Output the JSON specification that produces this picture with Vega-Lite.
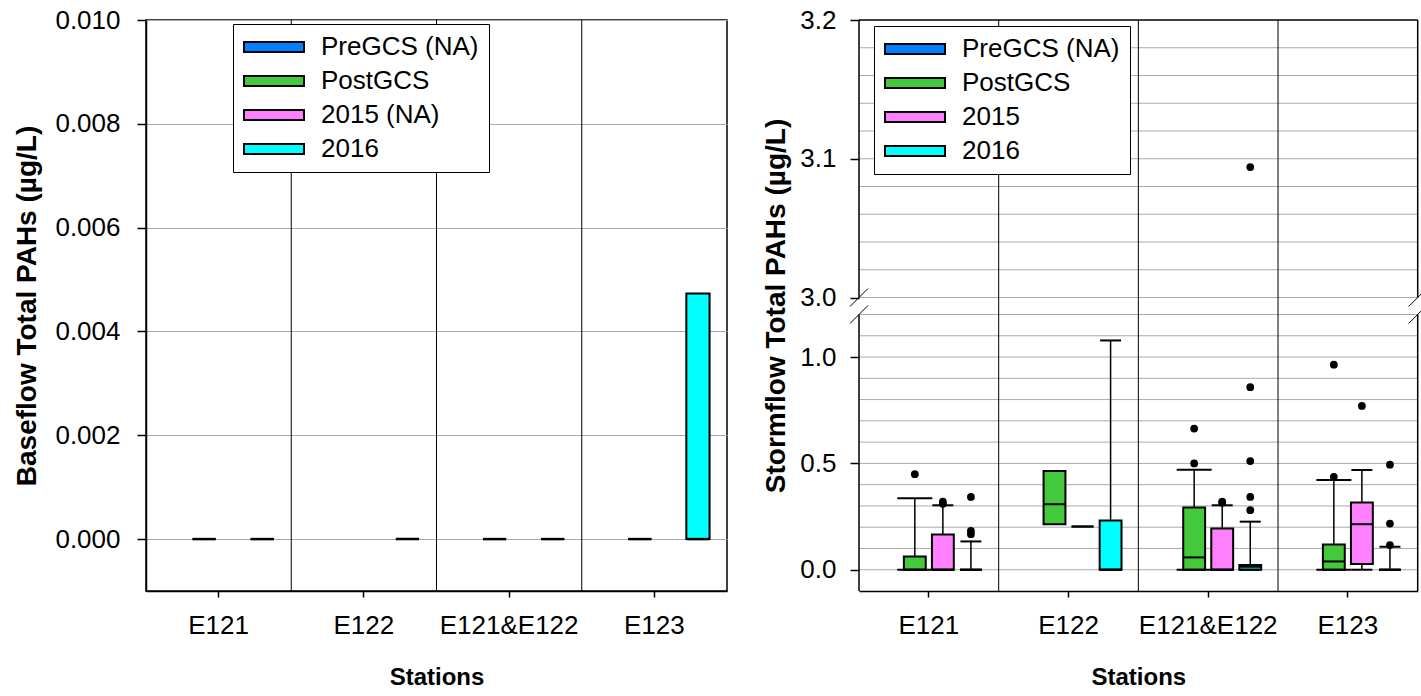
{
  "$schema": "https://vega.github.io/schema/vega-lite/v6.json",
  "autosize": {"type": "pad"},
  "padding": {"left": 13, "top": 6, "right": 0, "bottom": 0},
  "background": "white",
  "spacing": 34,
  "config": {
    "font": "Liberation Sans",
    "view": {"stroke": null},
    "axis": {
      "labelFont": "Liberation Sans", "labelFontSize": 26, "labelColor": "black", "labelOverlap": false, "labelFlush": false,
      "titleFont": "Liberation Sans", "titleFontSize": 28, "titleFontWeight": "bold", "titleColor": "black",
      "tickColor": "black", "tickWidth": 1.5, "domainColor": "black", "domainWidth": 1.5
    }
  },
  "datasets": {
    "base": [
      {"station": "E121", "group": "PostGCS", "q1": 0, "med": 0, "q3": 0},
      {"station": "E121", "group": "2016", "q1": 0, "med": 0, "q3": 0},
      {"station": "E122", "group": "2016", "q1": 0, "med": 0, "q3": 0},
      {"station": "E121&E122", "group": "PostGCS", "q1": 0, "med": 0, "q3": 0},
      {"station": "E121&E122", "group": "2016", "q1": 0, "med": 0, "q3": 0},
      {"station": "E123", "group": "PostGCS", "q1": 0, "med": 0, "q3": 0},
      {"station": "E123", "group": "2016", "q1": 0, "med": 0, "q3": 0.00473}
    ],
    "storm": [
      {"station": "E121", "group": "PostGCS", "q1": 0, "med": 0, "q3": 0.062, "lo": 0, "hi": 0.336},
      {"station": "E121", "group": "2015", "q1": 0, "med": 0, "q3": 0.166, "lo": 0, "hi": 0.303},
      {"station": "E121", "group": "2016", "q1": 0, "med": 0, "q3": 0, "lo": 0, "hi": 0.133},
      {"station": "E122", "group": "PostGCS", "q1": 0.214, "med": 0.308, "q3": 0.464},
      {"station": "E122", "group": "2015", "q1": 0.203, "med": 0.203, "q3": 0.203},
      {"station": "E122", "group": "2016", "q1": 0, "med": 0, "q3": 0.232, "lo": 0, "hi": 1.078},
      {"station": "E121&E122", "group": "PostGCS", "q1": 0, "med": 0.058, "q3": 0.292, "lo": 0, "hi": 0.47},
      {"station": "E121&E122", "group": "2015", "q1": 0, "med": 0, "q3": 0.194, "lo": 0, "hi": 0.303},
      {"station": "E121&E122", "group": "2016", "q1": 0, "med": 0.014, "q3": 0.022, "lo": 0, "hi": 0.226},
      {"station": "E123", "group": "PostGCS", "q1": 0, "med": 0.039, "q3": 0.119, "lo": 0, "hi": 0.422},
      {"station": "E123", "group": "2015", "q1": 0.027, "med": 0.214, "q3": 0.316, "lo": 0, "hi": 0.469},
      {"station": "E123", "group": "2016", "q1": 0, "med": 0, "q3": 0, "lo": 0, "hi": 0.108}
    ],
    "stormOut": [
      {"station": "E121", "group": "PostGCS", "v": 0.449},
      {"station": "E121", "group": "2015", "v": 0.31},
      {"station": "E121", "group": "2015", "v": 0.32},
      {"station": "E121", "group": "2016", "v": 0.342},
      {"station": "E121", "group": "2016", "v": 0.167},
      {"station": "E121", "group": "2016", "v": 0.183},
      {"station": "E121&E122", "group": "PostGCS", "v": 0.5},
      {"station": "E121&E122", "group": "PostGCS", "v": 0.664},
      {"station": "E121&E122", "group": "2015", "v": 0.315},
      {"station": "E121&E122", "group": "2015", "v": 0.32},
      {"station": "E121&E122", "group": "2016", "v": 0.28},
      {"station": "E121&E122", "group": "2016", "v": 0.342},
      {"station": "E121&E122", "group": "2016", "v": 0.511},
      {"station": "E121&E122", "group": "2016", "v": 0.858},
      {"station": "E121&E122", "group": "2016", "v": 3.094},
      {"station": "E123", "group": "PostGCS", "v": 0.437},
      {"station": "E123", "group": "PostGCS", "v": 0.964},
      {"station": "E123", "group": "2015", "v": 0.77},
      {"station": "E123", "group": "2016", "v": 0.116},
      {"station": "E123", "group": "2016", "v": 0.217},
      {"station": "E123", "group": "2016", "v": 0.494}
    ],
    "stormGrid": [
      {"y": 0}, {"y": 0.1}, {"y": 0.2}, {"y": 0.3}, {"y": 0.4}, {"y": 0.5}, {"y": 0.6},
      {"y": 0.7}, {"y": 0.8}, {"y": 0.9}, {"y": 1.0}, {"y": 1.1}, {"y": 1.2},
      {"y": 3.0}, {"y": 3.02}, {"y": 3.04}, {"y": 3.06}, {"y": 3.08}, {"y": 3.1},
      {"y": 3.12}, {"y": 3.14}, {"y": 3.16}, {"y": 3.18}
    ],
    "dividers": [
      {"station": "E122"}, {"station": "E121&E122"}, {"station": "E123"}
    ],
    "edges": [
      {"station": "E121", "from": -0.1, "to": 1.2},
      {"station": "E121", "from": 3.0, "to": 3.2},
      {"station": "E123", "from": -0.1, "to": 1.2},
      {"station": "E123", "from": 3.0, "to": 3.2}
    ],
    "breaks": [
      {"station": "E121", "y": 3.0},
      {"station": "E121", "y": 1.2},
      {"station": "E123", "y": 3.0},
      {"station": "E123", "y": 1.2}
    ]
  },
  "resolve": {
    "scale": {"x": "independent", "y": "independent", "fill": "independent", "xOffset": "independent"},
    "legend": {"fill": "independent"}
  },
  "hconcat": [
    {
      "width": 581,
      "height": 571,
      "view": {"stroke": "black", "strokeWidth": 1.5},
      "layer": [
        {
          "data": {"name": "dividers"},
          "mark": {"type": "rule", "color": "black", "strokeWidth": 1},
          "encoding": {
            "x": {"field": "station", "type": "nominal", "bandPosition": 0,
              "scale": {"domain": ["E121", "E122", "E121&E122", "E123"], "paddingInner": 0, "paddingOuter": 0},
              "axis": {"title": "Stations", "titleFontSize": 24, "labelAngle": 0, "tickSize": 6, "labelPadding": 15, "titlePadding": 27, "grid": false, "bandPosition": 0.5}},
            "y": {"datum": -0.001, "type": "quantitative",
              "scale": {"domain": [-0.001, 0.01], "nice": false, "zero": false},
              "axis": {"values": [0, 0.002, 0.004, 0.006, 0.008, 0.01], "format": ".3f", "grid": true, "gridColor": "#aaaaaa", "gridWidth": 1, "tickSize": 9, "labelPadding": 17, "labelOverlap": false, "title": "Baseflow Total PAHs (µg/L)", "titlePadding": 13}},
            "y2": {"datum": 0.01}
          }
        },
        {
          "data": {"name": "base"},
          "mark": {"type": "bar", "stroke": "black", "strokeWidth": 2},
          "encoding": {
            "x": {"field": "station", "type": "nominal", "scale": {"domain": ["E121", "E122", "E121&E122", "E123"], "paddingInner": 0, "paddingOuter": 0}},
            "xOffset": {"field": "group", "scale": {"domain": ["PreGCS", "PostGCS", "2015", "2016"], "paddingInner": 0.2, "paddingOuter": 0.6}},
            "y": {"field": "q1", "type": "quantitative", "scale": {"domain": [-0.001, 0.01], "nice": false, "zero": false}},
            "y2": {"field": "q3"},
            "fill": {"field": "group", "type": "nominal",
              "scale": {"domain": ["PreGCS", "PostGCS", "2015", "2016"], "range": ["#0080FF", "#44C83C", "#FF80FF", "#00FFFF"]},
              "legend": {"orient": "none", "legendX": 87, "legendY": 4, "title": null, "direction": "vertical",
                "labelExpr": "datum.label == 'PreGCS' || datum.label == '2015' ? datum.label + ' (NA)' : datum.label",
                "symbolType": "M-1,-0.17H1V0.17H-1Z", "symbolSize": 3600, "symbolStrokeColor": "black", "symbolStrokeWidth": 2, "symbolOpacity": 1,
                "labelFont": "Liberation Sans", "labelFontSize": 26, "labelColor": "black", "labelLimit": 400, "labelOffset": 16,
                "strokeColor": "black", "fillColor": "white", "padding": 10, "rowPadding": 8, "clipHeight": 26}}
          }
        },
        {
          "data": {"name": "base"},
          "mark": {"type": "tick", "color": "black", "thickness": 2.5, "size": 23, "opacity": 1},
          "encoding": {
            "x": {"field": "station", "type": "nominal", "scale": {"domain": ["E121", "E122", "E121&E122", "E123"], "paddingInner": 0, "paddingOuter": 0}},
            "xOffset": {"field": "group", "scale": {"domain": ["PreGCS", "PostGCS", "2015", "2016"], "paddingInner": 0.2, "paddingOuter": 0.6}},
            "y": {"field": "med", "type": "quantitative", "scale": {"domain": [-0.001, 0.01], "nice": false, "zero": false}}
          }
        }
      ]
    },
    {
      "width": 558.7,
      "height": 571,
      "layer": [
        {
          "data": {"name": "stormGrid"},
          "mark": {"type": "rule", "color": "#aaaaaa", "strokeWidth": 1},
          "encoding": {
            "y": {"field": "y", "type": "quantitative",
              "scale": {"domain": [-0.1, 1.2, 3.0, 3.2], "range": [571, 294.5, 277.5, 0], "nice": false, "zero": false},
              "axis": {"values": [0, 0.5, 1, 3, 3.1, 3.2], "format": ".1f", "grid": false, "domain": false, "tickSize": 9, "labelPadding": 14, "labelOverlap": false,
                "title": "Stormflow Total PAHs (µg/L)", "titlePadding": 9}}
          }
        },
        {
          "data": {"name": "dividers"},
          "mark": {"type": "rule", "color": "black", "strokeWidth": 1},
          "encoding": {
            "x": {"field": "station", "type": "nominal", "bandPosition": 0,
              "scale": {"domain": ["E121", "E122", "E121&E122", "E123"], "paddingInner": 0, "paddingOuter": 0},
              "axis": {"title": "Stations", "titleFontSize": 24, "labelAngle": 0, "tickSize": 6, "labelPadding": 15, "titlePadding": 27, "grid": false, "bandPosition": 0.5}},
            "y": {"datum": -0.1, "type": "quantitative",
              "scale": {"domain": [-0.1, 1.2, 3.0, 3.2], "range": [571, 294.5, 277.5, 0], "nice": false, "zero": false}},
            "y2": {"datum": 3.2}
          }
        },
        {
          "data": {"name": "edges"},
          "transform": [{"filter": "datum.station == 'E121'"}],
          "mark": {"type": "rule", "color": "black", "strokeWidth": 1.5},
          "encoding": {
            "x": {"field": "station", "type": "nominal", "bandPosition": 0, "scale": {"domain": ["E121", "E122", "E121&E122", "E123"], "paddingInner": 0, "paddingOuter": 0}},
            "y": {"field": "from", "type": "quantitative", "scale": {"domain": [-0.1, 1.2, 3.0, 3.2], "range": [571, 294.5, 277.5, 0], "nice": false, "zero": false}},
            "y2": {"field": "to"}
          }
        },
        {
          "data": {"name": "edges"},
          "transform": [{"filter": "datum.station == 'E123'"}],
          "mark": {"type": "rule", "color": "black", "strokeWidth": 1.5},
          "encoding": {
            "x": {"field": "station", "type": "nominal", "bandPosition": 1, "scale": {"domain": ["E121", "E122", "E121&E122", "E123"], "paddingInner": 0, "paddingOuter": 0}},
            "y": {"field": "from", "type": "quantitative", "scale": {"domain": [-0.1, 1.2, 3.0, 3.2], "range": [571, 294.5, 277.5, 0], "nice": false, "zero": false}},
            "y2": {"field": "to"}
          }
        },
        {
          "data": {"values": [{"top": 3.2}]},
          "mark": {"type": "rule", "color": "black", "strokeWidth": 1.5},
          "encoding": {
            "y": {"field": "top", "type": "quantitative", "scale": {"domain": [-0.1, 1.2, 3.0, 3.2], "range": [571, 294.5, 277.5, 0], "nice": false, "zero": false}}
          }
        },
        {
          "data": {"name": "storm"},
          "transform": [{"filter": "isValid(datum.lo)"}],
          "mark": {"type": "rule", "color": "black", "strokeWidth": 1.5},
          "encoding": {
            "x": {"field": "station", "type": "nominal", "scale": {"domain": ["E121", "E122", "E121&E122", "E123"], "paddingInner": 0, "paddingOuter": 0}},
            "xOffset": {"field": "group", "scale": {"domain": ["PreGCS", "PostGCS", "2015", "2016"], "paddingInner": 0.22, "paddingOuter": 0.6}},
            "y": {"field": "lo", "type": "quantitative", "scale": {"domain": [-0.1, 1.2, 3.0, 3.2], "range": [571, 294.5, 277.5, 0], "nice": false, "zero": false}},
            "y2": {"field": "hi"}
          }
        },
        {
          "data": {"name": "storm"},
          "mark": {"type": "bar", "stroke": "black", "strokeWidth": 2},
          "encoding": {
            "x": {"field": "station", "type": "nominal", "scale": {"domain": ["E121", "E122", "E121&E122", "E123"], "paddingInner": 0, "paddingOuter": 0}},
            "xOffset": {"field": "group", "scale": {"domain": ["PreGCS", "PostGCS", "2015", "2016"], "paddingInner": 0.22, "paddingOuter": 0.6}},
            "y": {"field": "q1", "type": "quantitative", "scale": {"domain": [-0.1, 1.2, 3.0, 3.2], "range": [571, 294.5, 277.5, 0], "nice": false, "zero": false}},
            "y2": {"field": "q3"},
            "fill": {"field": "group", "type": "nominal",
              "scale": {"domain": ["PreGCS", "PostGCS", "2015", "2016"], "range": ["#0080FF", "#44C83C", "#FF80FF", "#00FFFF"]},
              "legend": {"orient": "none", "legendX": 15, "legendY": 6, "title": null, "direction": "vertical",
                "labelExpr": "datum.label == 'PreGCS' ? 'PreGCS (NA)' : datum.label",
                "symbolType": "M-1,-0.17H1V0.17H-1Z", "symbolSize": 3600, "symbolStrokeColor": "black", "symbolStrokeWidth": 2, "symbolOpacity": 1,
                "labelFont": "Liberation Sans", "labelFontSize": 26, "labelColor": "black", "labelLimit": 400, "labelOffset": 16,
                "strokeColor": "black", "fillColor": "white", "padding": 10, "rowPadding": 8, "clipHeight": 26}}
          }
        },
        {
          "data": {"name": "storm"},
          "mark": {"type": "tick", "color": "black", "thickness": 2, "size": 22, "opacity": 1},
          "encoding": {
            "x": {"field": "station", "type": "nominal", "scale": {"domain": ["E121", "E122", "E121&E122", "E123"], "paddingInner": 0, "paddingOuter": 0}},
            "xOffset": {"field": "group", "scale": {"domain": ["PreGCS", "PostGCS", "2015", "2016"], "paddingInner": 0.22, "paddingOuter": 0.6}},
            "y": {"field": "med", "type": "quantitative", "scale": {"domain": [-0.1, 1.2, 3.0, 3.2], "range": [571, 294.5, 277.5, 0], "nice": false, "zero": false}}
          }
        },
        {
          "data": {"name": "storm"},
          "transform": [{"fold": ["lo", "hi"], "as": ["end", "val"]}, {"filter": "isValid(datum.val) && datum.group == 'PostGCS'"}],
          "mark": {"type": "tick", "color": "black", "thickness": 2, "size": 35, "opacity": 1},
          "encoding": {
            "x": {"field": "station", "type": "nominal", "scale": {"domain": ["E121", "E122", "E121&E122", "E123"], "paddingInner": 0, "paddingOuter": 0}},
            "xOffset": {"field": "group", "scale": {"domain": ["PreGCS", "PostGCS", "2015", "2016"], "paddingInner": 0.22, "paddingOuter": 0.6}},
            "y": {"field": "val", "type": "quantitative", "scale": {"domain": [-0.1, 1.2, 3.0, 3.2], "range": [571, 294.5, 277.5, 0], "nice": false, "zero": false}}
          }
        },
        {
          "data": {"name": "storm"},
          "transform": [{"fold": ["lo", "hi"], "as": ["end", "val"]}, {"filter": "isValid(datum.val) && datum.group != 'PostGCS'"}],
          "mark": {"type": "tick", "color": "black", "thickness": 2, "size": 21, "opacity": 1},
          "encoding": {
            "x": {"field": "station", "type": "nominal", "scale": {"domain": ["E121", "E122", "E121&E122", "E123"], "paddingInner": 0, "paddingOuter": 0}},
            "xOffset": {"field": "group", "scale": {"domain": ["PreGCS", "PostGCS", "2015", "2016"], "paddingInner": 0.22, "paddingOuter": 0.6}},
            "y": {"field": "val", "type": "quantitative", "scale": {"domain": [-0.1, 1.2, 3.0, 3.2], "range": [571, 294.5, 277.5, 0], "nice": false, "zero": false}}
          }
        },
        {
          "data": {"name": "stormOut"},
          "mark": {"type": "circle", "color": "black", "size": 60, "opacity": 1},
          "encoding": {
            "x": {"field": "station", "type": "nominal", "scale": {"domain": ["E121", "E122", "E121&E122", "E123"], "paddingInner": 0, "paddingOuter": 0}},
            "xOffset": {"field": "group", "scale": {"domain": ["PreGCS", "PostGCS", "2015", "2016"], "paddingInner": 0.22, "paddingOuter": 0.6}},
            "y": {"field": "v", "type": "quantitative", "scale": {"domain": [-0.1, 1.2, 3.0, 3.2], "range": [571, 294.5, 277.5, 0], "nice": false, "zero": false}}
          }
        },
        {
          "data": {"name": "breaks"},
          "transform": [{"filter": "datum.station == 'E121'"}],
          "mark": {"type": "point", "shape": "M-1,1L1,-1", "size": 324, "filled": false, "stroke": "black", "strokeWidth": 1, "opacity": 1},
          "encoding": {
            "x": {"field": "station", "type": "nominal", "bandPosition": 0, "scale": {"domain": ["E121", "E122", "E121&E122", "E123"], "paddingInner": 0, "paddingOuter": 0}},
            "y": {"field": "y", "type": "quantitative", "scale": {"domain": [-0.1, 1.2, 3.0, 3.2], "range": [571, 294.5, 277.5, 0], "nice": false, "zero": false}}
          }
        },
        {
          "data": {"name": "breaks"},
          "transform": [{"filter": "datum.station == 'E123'"}],
          "mark": {"type": "point", "shape": "M-1,1L1,-1", "size": 324, "filled": false, "stroke": "black", "strokeWidth": 1, "opacity": 1},
          "encoding": {
            "x": {"field": "station", "type": "nominal", "bandPosition": 1, "scale": {"domain": ["E121", "E122", "E121&E122", "E123"], "paddingInner": 0, "paddingOuter": 0}},
            "y": {"field": "y", "type": "quantitative", "scale": {"domain": [-0.1, 1.2, 3.0, 3.2], "range": [571, 294.5, 277.5, 0], "nice": false, "zero": false}}
          }
        }
      ]
    }
  ]
}
